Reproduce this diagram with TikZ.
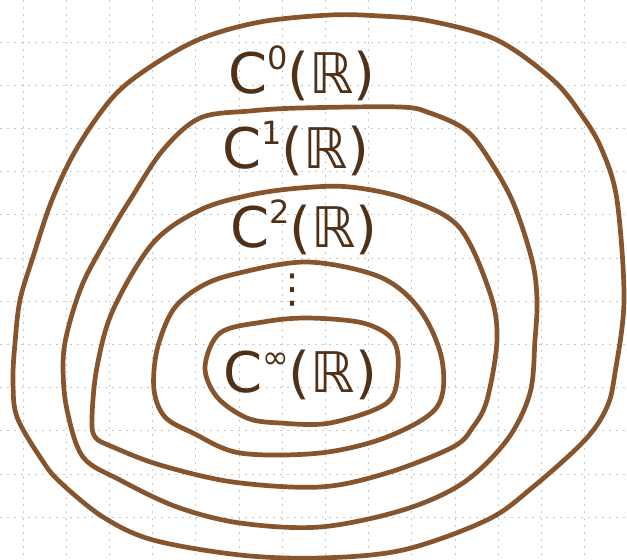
\documentclass[tikz,border=0pt]{standalone}
\usepackage{fontspec}
\setmainfont{DejaVu Sans}
\definecolor{ink}{RGB}{135,85,45}
\definecolor{textink}{RGB}{80,48,22}
\definecolor{gridc}{RGB}{200,200,200}
\newcommand\upidx[1]{\raisebox{0.42em}{\fontsize{32}{32}\selectfont #1}}
\begin{document}
\begin{tikzpicture}[x=1pt,y=-1pt,
  gridline/.style={draw=gridc,line width=0.8pt,dash pattern=on 2pt off 5pt},
  loopline/.style={draw=ink,line width=4.7pt,line join=round},
  lab/.style={text=textink,font=\fontsize{56}{56}\selectfont,anchor=base,inner sep=0pt}]
\useasboundingbox (0,0) rectangle (627,560);
\fill[white] (0,0) rectangle (627,560);
% graph paper
\foreach \i in {0,...,14} \draw[gridline] ({23+43.2*\i},0) -- ({23+43.2*\i},560);
\foreach \j in {0,...,12} \draw[gridline] (0,{42+43.2*\j}) -- (627,{42+43.2*\j});
% loops
\draw[loopline] plot[smooth cycle,tension=0.55] coordinates {
 (13,380) (15,343) (20,300) (33,257) (52,200) (77,148) (113,97) (150,67) (200,39)
 (260,22) (330,15) (380,16) (430,21) (497,40) (553,80) (583,117) (602,150) (617,200)
 (624,300) (615,373) (607,407) (585,440) (533,487) (487,520) (403,550) (320,558)
 (240,555) (153,540) (103,517) (60,482) (42,460) (17,417)};
\draw[loopline] plot[smooth cycle,tension=0.55] coordinates {
 (63,367) (67,333) (83,283) (110,233) (130,200) (163,150) (200,118) (250,111) (300,108)
 (400,107) (430,113) (463,128) (483,150) (512,200) (532,260) (537,300) (535,340)
 (530,393) (507,440) (463,483) (403,510) (320,527) (240,523) (177,507) (120,480)
 (83,457) (67,410)};
\draw[loopline] plot[smooth cycle,tension=0.55] coordinates {
 (92,417) (97,367) (113,310) (153,243) (200,210) (250,195) (300,188) (350,187)
 (407,199) (459,227) (490,293) (497,340) (487,400) (473,427) (453,447) (387,473)
 (320,487) (233,482) (160,465) (113,447) (95,437)};
\draw[loopline] plot[smooth cycle,tension=0.55] coordinates {
 (154,390) (157,350) (173,310) (200,287) (235,274) (307,262) (380,277) (420,310)
 (442,360) (437,407) (387,437) (320,453) (240,453) (193,433) (165,417)};
\draw[loopline] plot[smooth cycle,tension=0.55] coordinates {
 (205,367) (220,333) (263,322) (307,318) (363,323) (393,340) (398,370) (387,403)
 (330,423) (280,423) (247,418) (217,397)};
% labels
\node[lab] (c0) at (302,93) {C\upidx{0}(ℝ)};
\node[lab] (c1) at (296,168) {C\upidx{1}(ℝ)};
\node[lab] (c2) at (304,247) {C\upidx{2}(ℝ)};
\node[text=textink,font=\fontsize{40}{40}\selectfont,inner sep=0pt] (dots) at (292,290) {⋮};
\node[lab] (cinf) at (300,392) {C\upidx{∞}(ℝ)};
\end{tikzpicture}
\end{document}
